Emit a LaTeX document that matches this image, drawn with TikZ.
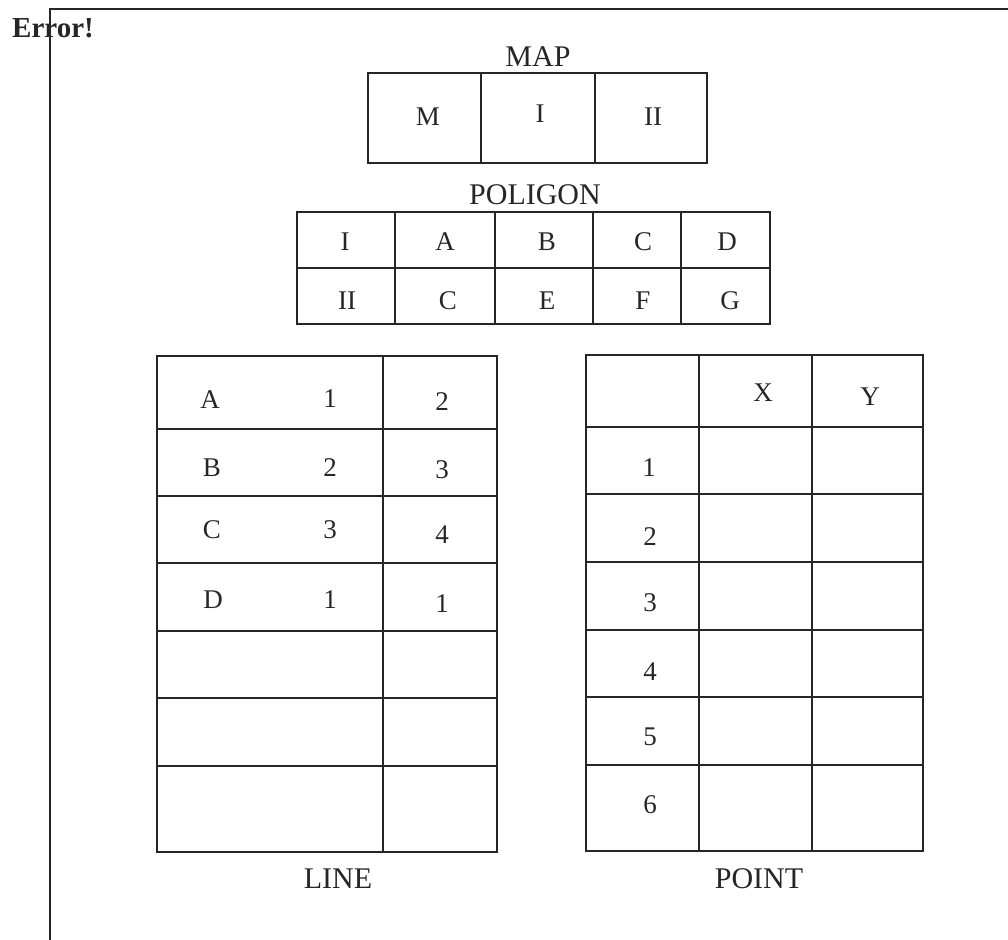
\documentclass[tikz,border=0pt]{standalone}
\usepackage{fontspec}
\setmainfont{Liberation Serif}
\usepackage{xcolor}
\usetikzlibrary{positioning}
\definecolor{tinta}{HTML}{262626}
\tikzset{
  every picture/.style={x=0.5pt, y=-0.5pt},
  gridline/.style={draw=tinta, line width=1pt},
  cell/.style={text=tinta, inner sep=0pt, font=\fontsize{13.5}{15}\selectfont},
  caption/.style={text=tinta, inner sep=0pt, font=\fontsize{15}{17}\selectfont},
  err/.style={text=tinta, inner sep=0pt, font=\fontsize{14.5}{16}\selectfont\bfseries},
}

\begin{document}
\begin{tikzpicture}
  \useasboundingbox (0,0) rectangle (1008,940);
  % frame
  \draw[gridline] (50,940) -- (50,9) -- (1008,9);
  \node[err] (Err) at (53,28) {Error!};

  % MAP
  \node[caption] (Map) at (538,57) {MAP};
  \draw[gridline] (368,73) rectangle (707,163);
  \draw[gridline] (481,73) -- (481,163) (595,73) -- (595,163);
  \node[cell] (MapM) at (428,117) {M};
  \node[cell] (MapI) at (540,114) {I};
  \node[cell] (MapII) at (653,117) {II};

  % POLIGON
  \node[caption] (Pol) at (535,195) {POLIGON};
  \draw[gridline] (297,212) rectangle (770,324);
  \draw[gridline] (297,268) -- (770,268);
  \draw[gridline] (395,212) -- (395,324) (495,212) -- (495,324)
                  (593,212) -- (593,324) (681,212) -- (681,324);
  \node[cell] (PolI) at (345,242) {I};
  \node[cell] (PolA) at (445,242) {A};
  \node[cell] (PolB) at (547,242) {B};
  \node[cell] (PolC) at (643,242) {C};
  \node[cell] (PolD) at (727,242) {D};
  \node[cell] (PolII) at (347,301) {II};
  \node[cell] (PolC2) at (448,301) {C};
  \node[cell] (PolE) at (547,301) {E};
  \node[cell] (PolF) at (643,301) {F};
  \node[cell] (PolG) at (730,301) {G};

  % LINE
  \draw[gridline] (157,356) rectangle (497,852);
  \draw[gridline] (383,356) -- (383,852);
  \foreach \y in {429,496,563,631,698,766}
    \draw[gridline] (157,\y) -- (497,\y);
  \node[cell] (LnA) at (210,400) {A};
  \node[cell] (LnA1) at (330,399) {1};
  \node[cell] (LnA2) at (442,402) {2};
  \node[cell] (LnB) at (212,468) {B};
  \node[cell] (LnB1) at (330,468) {2};
  \node[cell] (LnB2) at (442,470) {3};
  \node[cell] (LnC) at (212,530) {C};
  \node[cell] (LnC1) at (330,530) {3};
  \node[cell] (LnC2) at (442,535) {4};
  \node[cell] (LnD) at (213,600) {D};
  \node[cell] (LnD1) at (330,600) {1};
  \node[cell] (LnD2) at (442,604) {1};
  \node[caption] (Line) at (338,879) {LINE};

  % POINT
  \draw[gridline] (586,355) rectangle (923,851);
  \draw[gridline] (699,355) -- (699,851) (812,355) -- (812,851);
  \foreach \y in {427,494,562,630,697,765}
    \draw[gridline] (586,\y) -- (923,\y);
  \node[cell] (PtX) at (763,393) {X};
  \node[cell] (PtY) at (870,397) {Y};
  \node[cell] (Pt1) at (649,468) {1};
  \node[cell] (Pt2) at (650,537) {2};
  \node[cell] (Pt3) at (650,603) {3};
  \node[cell] (Pt4) at (650,672) {4};
  \node[cell] (Pt5) at (650,737) {5};
  \node[cell] (Pt6) at (650,805) {6};
  \node[caption] (Point) at (759,879) {POINT};
\end{tikzpicture}
\end{document}
